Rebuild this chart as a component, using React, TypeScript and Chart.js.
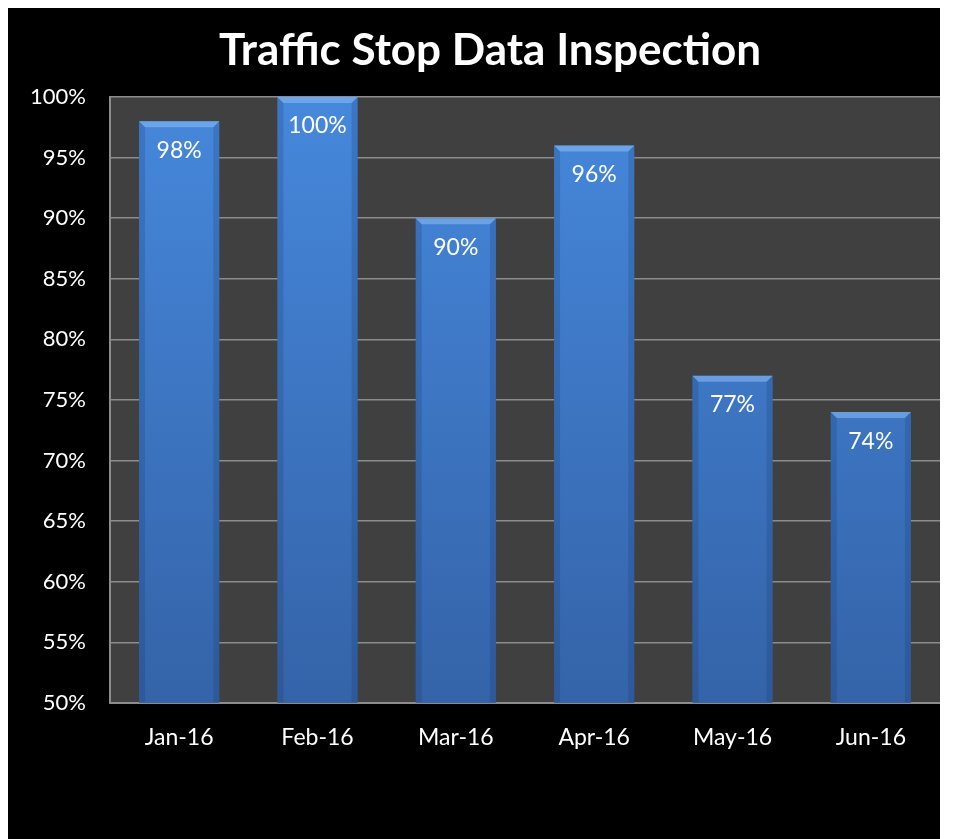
import React, { useEffect, useRef } from "react";
import { Chart, registerables } from "chart.js";

Chart.register(...registerables);

const categories = ["Jan-16", "Feb-16", "Mar-16", "Apr-16", "May-16", "Jun-16"];
const values = [98, 100, 90, 96, 77, 74];
const titleText = "Traffic Stop Data Inspection";
const FONT = "Lato, 'Open Sans', 'DejaVu Sans', sans-serif";

export default function App() {
  const ref = useRef<HTMLCanvasElement | null>(null);
  useEffect(() => {
    if (!ref.current) return;
    const bg = {
      id: "bg",
      beforeDraw(chart: any) {
        const { ctx, width, height, chartArea } = chart;
        ctx.save();
        ctx.fillStyle = "#000000";
        ctx.fillRect(0, 0, width, height);
        ctx.fillStyle = "#404040";
        ctx.fillRect(chartArea.left, chartArea.top, chartArea.right - chartArea.left, chartArea.bottom - chartArea.top);
        ctx.fillStyle = "#ffffff";
        ctx.font = `bold 44px ${FONT}`;
        ctx.textAlign = "center";
        ctx.textBaseline = "middle";
        ctx.fillText(titleText, 482, 43);
        ctx.restore();
      },
    };
    const labels = {
      id: "labels",
      afterDatasetsDraw(chart: any) {
        const { ctx, chartArea } = chart;
        const meta = chart.getDatasetMeta(0);
        ctx.save();
        meta.data.forEach((bar: any) => {
          const half = bar.width / 2;
          const l = bar.x - half, r = bar.x + half, t = bar.y, b = chartArea.bottom - 1;
          ctx.fillStyle = "rgba(140,190,245,0.55)";
          ctx.beginPath();
          ctx.moveTo(l, t);
          ctx.lineTo(r, t);
          ctx.lineTo(r - 6, t + 6);
          ctx.lineTo(l + 6, t + 6);
          ctx.closePath();
          ctx.fill();
          ctx.fillStyle = "rgba(20,50,100,0.2)";
          ctx.beginPath();
          ctx.moveTo(l, t);
          ctx.lineTo(l + 6, t + 6);
          ctx.lineTo(l + 6, b);
          ctx.lineTo(l, b);
          ctx.closePath();
          ctx.fill();
          ctx.beginPath();
          ctx.moveTo(r, t);
          ctx.lineTo(r - 6, t + 6);
          ctx.lineTo(r - 6, b);
          ctx.lineTo(r, b);
          ctx.closePath();
          ctx.fill();
        });
        ctx.fillStyle = "#ffffff";
        ctx.font = `23px ${FONT}`;
        ctx.textAlign = "center";
        ctx.textBaseline = "middle";
        meta.data.forEach((bar: any, i: number) => {
          ctx.fillText(values[i] + "%", bar.x, bar.y + 29);
        });
        ctx.restore();
      },
    };
    const chart = new Chart(ref.current, {
      type: "bar",
      data: {
        labels: categories,
        datasets: [
          {
            data: values,
            backgroundColor: (c: any) => {
              const ch = c.chart;
              const area = ch.chartArea;
              if (!area) return "#3f7fd0";
              const g = ch.ctx.createLinearGradient(0, area.top, 0, area.bottom);
              g.addColorStop(0, "#4688dc");
              g.addColorStop(1, "#3463a8");
              return g;
            },
            borderWidth: 0,
            categoryPercentage: 0.58,
            barPercentage: 1,
          },
        ],
      },
      options: {
        animation: false,
        responsive: false,
        layout: { padding: { left: 0, right: 0, top: 89, bottom: 86 } },
        plugins: { legend: { display: false }, tooltip: { enabled: false }, title: { display: false } },
        scales: {
          x: {
            grid: { display: false, drawTicks: false },
            border: { display: true, color: "#8c8c8c", width: 2 },
            ticks: { color: "#ffffff", font: { family: FONT, size: 23 }, padding: 21 },
            afterFit: (s: any) => { s.height = 50; },
          },
          y: {
            min: 50,
            max: 100,
            grid: { color: "#8c8c8c", lineWidth: 1.5, drawTicks: false },
            border: { display: true, color: "#8c8c8c", width: 2 },
            ticks: {
              stepSize: 5,
              color: "#ffffff",
              font: { family: FONT, size: 22 },
              padding: 24,
              callback: (v: any) => v + "%",
            },
            afterFit: (s: any) => { s.width = 102; },
          },
        },
      },
      plugins: [bg, labels],
    });
    return () => chart.destroy();
  }, []);
  return (
    <div style={{ width: 932, height: 831 }}>
      <canvas ref={ref} width={932} height={831} style={{ display: "block" }} />
    </div>
  );
}
